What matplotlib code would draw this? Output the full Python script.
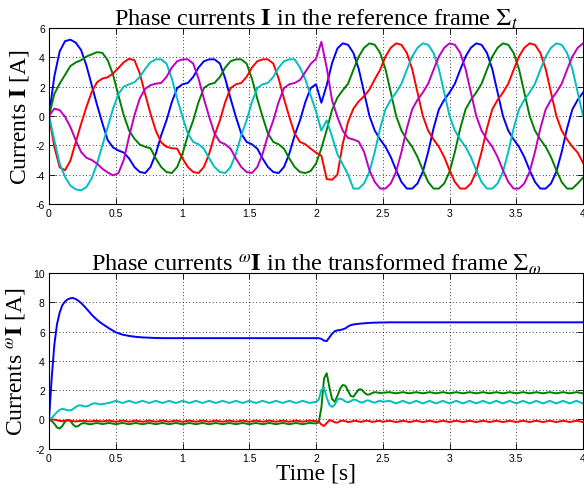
import numpy as np
import matplotlib
matplotlib.use('Agg')
import matplotlib.pyplot as plt
from matplotlib import ticker

plt.rcParams['font.family'] = ['Liberation Sans', 'DejaVu Sans']
plt.rcParams['mathtext.fontset'] = 'stix'

# ---- top panel: phase currents in the reference frame (sampled every 0.04 s) ----
t_top = np.round(np.arange(101) * 0.04, 2)

i_blue = [0, 2.7, 4.4, 5.1, 5.2, 5.0, 4.5, 3.45, 2.1, 0.75, -0.5, -1.65, -2.15, -2.35, -2.5,
          -2.9, -3.48, -3.82, -3.89, -3.48, -2.57, -1.32, -0.3, 0.95, 1.9, 2.16, 2.25, 2.66, 3.3, 3.73, 3.86,
          3.86, 3.57, 2.55, 1.18, -0.07, -1.2, -1.77, -1.93, -2.23, -2.9, -3.48, -3.82, -3.89, -3.48, -2.57,
          -1.32, -0.3, 0.95, 1.9, 2.16,
          0.9, 2.1, 3.6, 4.6,
          4.95, 4.85, 4.3, 3.2, 1.6, 0.0, -1.0, -1.6, -2.1, -2.8, -3.7, -4.5, -4.95, -4.95, -4.6, -3.8,
          -2.45, -0.85, 0.45, 1.1, 1.6, 2.2, 3.15, 4.05, 4.65,
          4.95, 4.85, 4.3, 3.2, 1.6, 0.0, -1.0, -1.6, -2.1, -2.8, -3.7, -4.5, -4.95, -4.95, -4.6, -3.8,
          -2.45, -0.85, 0.45, 1.1, 1.6]

i_green = [0, 1.5, 2.2, 2.8, 3.4, 3.65, 3.8, 4.05, 4.2, 4.35, 4.3, 3.8, 2.8, 1.4, 0.05, -1.0, -1.55, -1.95,
           -2.1, -2.2,
           -2.9, -3.48, -3.82, -3.89, -3.48, -2.57, -1.32, -0.3, 0.95, 1.9, 2.16, 2.25, 2.66, 3.3, 3.73, 3.86,
           3.86, 3.57, 2.55, 1.18, -0.07, -1.2, -1.77, -1.93, -2.23, -2.9, -3.48, -3.82,
           -3.89, -3.75, -3.25,
           -2.2, -0.95, 0.4, 1.25, 1.75,
           2.2, 3.15, 4.05, 4.65, 4.95, 4.85, 4.3, 3.2, 1.6, 0.0, -1.0, -1.6, -2.1, -2.8, -3.7, -4.5, -4.95,
           -4.95, -4.6, -3.8, -2.45, -0.85, 0.45, 1.1,
           1.6, 2.2, 3.15, 4.05, 4.65, 4.95, 4.85, 4.3, 3.2, 1.6, 0.0, -1.0, -1.6, -2.1, -2.8, -3.7, -4.5,
           -4.95, -4.95, -4.6, -4.2]

i_red = [0, -2.1, -3.5, -3.7, -3.05, -1.8, -0.55, 0.6, 1.64, 2.3, 2.55, 2.64, 2.9, 3.27, 3.66, 3.9,
         3.8, 2.9, 1.5, 0.16, -1.0, -1.8, -2.1, -2.2,
         -2.23, -2.9, -3.48, -3.82, -3.89, -3.48, -2.57, -1.32, -0.3, 0.95, 1.9, 2.16, 2.25, 2.66, 3.3, 3.73,
         3.86, 3.86, 3.57, 2.55, 1.18, -0.07, -1.2, -1.77, -1.93, -2.23,
         -2.5, -2.7, -4.3, -4.35, -4.0, -1.9, -0.4, 0.5, 1.0, 1.35, 1.8, 2.5,
         3.15, 4.05, 4.65,
         4.95, 4.85, 4.3, 3.2, 1.6, 0.0, -1.0, -1.6, -2.1, -2.8, -3.7, -4.5, -4.95, -4.95, -4.6, -3.8,
         -2.45, -0.85, 0.45, 1.1, 1.6, 2.2, 3.15, 4.05, 4.65,
         4.95, 4.85, 4.3, 3.2, 1.6, 0.0, -1.0, -1.6, -2.1, -2.5, -3.2]

i_cyan = [0, -1.65, -3.25, -4.15, -4.75, -5.0, -5.07, -4.85, -4.25, -3.25, -2.0, -0.75, 0.5, 1.5, 2.0,
          2.16, 2.3, 2.66, 3.2, 3.66,
          3.86, 3.86, 3.57, 2.55, 1.18, -0.07, -1.2, -1.77, -1.93, -2.23, -2.9, -3.48, -3.82, -3.89, -3.48,
          -2.57, -1.32, -0.3, 0.95, 1.9, 2.16, 2.25, 2.66, 3.3, 3.73, 3.86, 3.86,
          3.3, 2.5, 1.4, 0.3,
          -1.0, -0.3, -1.4, -2.6, -3.3, -4.0,
          -4.95, -4.95, -4.6, -3.8, -2.45, -0.85, 0.45, 1.1, 1.6, 2.2, 3.15, 4.05, 4.65,
          4.95, 4.85, 4.3, 3.2, 1.6, 0.0, -1.0, -1.6, -2.1, -2.8, -3.7, -4.5, -4.95, -4.95, -4.6, -3.8,
          -2.45, -0.85, 0.45, 1.1, 1.6, 2.2, 3.15, 4.05, 4.65,
          4.95, 4.85, 4.3, 3.2, 1.6, 0.0]

i_magenta = [0, 0.5, 0.4, -0.05, -0.75, -1.65, -2.45, -2.85, -3.0, -3.25, -3.6, -3.85, -4.05, -3.9, -3.0,
             -1.4, 0.05, 1.2, 1.85, 2.1, 2.2,
             2.25, 2.66, 3.3, 3.73, 3.86, 3.86, 3.57, 2.55, 1.18, -0.07, -1.2, -1.77, -1.93, -2.23, -2.9,
             -3.48, -3.82, -3.89, -3.48, -2.57, -1.32, -0.3, 0.95, 1.9, 2.16, 2.25,
             2.45, 3.0, 3.55, 3.9,
             5.05, 3.3, 1.07, -0.07, -1.0, -1.5, -1.6, -1.75, -2.45,
             -3.7, -4.5, -4.95, -4.95, -4.6, -3.8, -2.45, -0.85, 0.45, 1.1, 1.6, 2.2, 3.15, 4.05, 4.65,
             4.95, 4.85, 4.3, 3.2, 1.6, 0.0, -1.0, -1.6, -2.1, -2.8, -3.7, -4.5, -4.95, -4.95, -4.6, -3.8,
             -2.45, -0.85, 0.45, 1.1, 1.6, 2.2, 3.15, 4.05, 4.65,
             4.95]

# ---- bottom panel: phase currents in the transformed frame ----
t_bot = np.round(np.concatenate([np.arange(21) * 0.02,
                                 0.45 + np.arange(31) * 0.05,
                                 2.0 + np.arange(26) * 0.02,
                                 2.55 + np.arange(30) * 0.05]), 3)

w_blue = [0, 2.8, 5.1, 6.5, 7.3, 7.8, 8.05, 8.2, 8.27, 8.29, 8.22, 8.1, 7.95, 7.77, 7.57, 7.36, 7.15, 6.97,
          6.8, 6.65, 6.52,
          6.22, 5.95, 5.79, 5.7, 5.64, 5.6, 5.58, 5.56, 5.55, 5.55, 5.55, 5.55, 5.55, 5.55, 5.55, 5.55,
          5.55, 5.55, 5.55, 5.55, 5.55, 5.55, 5.55, 5.55, 5.55, 5.55, 5.55, 5.55, 5.55, 5.55, 5.55,
          5.55, 5.55, 5.5, 5.38, 5.35, 5.6, 5.85, 6.02, 6.08, 6.1, 6.15, 6.22, 6.35, 6.44, 6.48, 6.51,
          6.53, 6.55, 6.56, 6.58, 6.59, 6.6, 6.61, 6.61, 6.62, 6.62,
          6.63, 6.63, 6.63, 6.63, 6.63, 6.63, 6.63, 6.63, 6.63, 6.63, 6.63, 6.63, 6.63, 6.63, 6.63,
          6.63, 6.63, 6.63, 6.63, 6.63, 6.63, 6.63, 6.63, 6.63, 6.63, 6.63, 6.63, 6.63, 6.63, 6.63]

w_green = [0, -0.1, -0.3, -0.55, -0.62, -0.45, -0.15, -0.05, -0.1, -0.35, -0.5, -0.45, -0.3, -0.25, -0.28,
           -0.33, -0.32, -0.27, -0.25, -0.28, -0.32,
           -0.24, -0.33, -0.24, -0.33, -0.24, -0.33, -0.24, -0.33, -0.24, -0.33, -0.24, -0.33, -0.24, -0.33,
           -0.24, -0.33, -0.24, -0.33, -0.24, -0.33, -0.24, -0.33, -0.24, -0.33, -0.24, -0.33, -0.24, -0.33,
           -0.24, -0.33, -0.24,
           -0.28, -0.2, 0.8, 2.8, 3.15, 2.2, 1.4, 1.2, 1.6, 2.1, 2.35, 2.3, 1.95, 1.6, 1.55, 1.8, 2.05,
           2.05, 1.85, 1.7, 1.7, 1.8, 1.86, 1.84, 1.8, 1.82,
           1.86, 1.78, 1.86, 1.78, 1.86, 1.78, 1.86, 1.78, 1.86, 1.78, 1.86, 1.78, 1.86, 1.78, 1.86,
           1.78, 1.86, 1.78, 1.86, 1.78, 1.86, 1.78, 1.86, 1.78, 1.86, 1.78, 1.86, 1.78, 1.86, 1.78]

w_red = [0, 0.0, -0.02, -0.05, -0.1, -0.12, -0.08, -0.05, -0.08, -0.12, -0.14, -0.12, -0.1, -0.1, -0.12,
         -0.14, -0.13, -0.1, -0.1, -0.12, -0.14,
         -0.08, -0.16, -0.08, -0.16, -0.08, -0.16, -0.08, -0.16, -0.08, -0.16, -0.08, -0.16, -0.08, -0.16,
         -0.08, -0.16, -0.08, -0.16, -0.08, -0.16, -0.08, -0.16, -0.08, -0.16, -0.08, -0.16, -0.08, -0.16,
         -0.08, -0.16, -0.08,
         -0.12, -0.15, -0.35, -0.45, -0.25, -0.05, -0.1, -0.2, -0.22, -0.12, -0.08, -0.12, -0.18, -0.16,
         -0.1, -0.1, -0.15, -0.17, -0.12, -0.09, -0.12, -0.17, -0.15, -0.1, -0.11, -0.16,
         -0.09, -0.18, -0.09, -0.18, -0.09, -0.18, -0.09, -0.18, -0.09, -0.18, -0.09, -0.18, -0.09, -0.18,
         -0.09, -0.18, -0.09, -0.18, -0.09, -0.18, -0.09, -0.18, -0.09, -0.18, -0.09, -0.18, -0.09, -0.18,
         -0.09, -0.18]

w_cyan = [0, 0.1, 0.3, 0.5, 0.65, 0.72, 0.68, 0.62, 0.62, 0.7, 0.85, 0.95, 0.96, 0.9, 0.88, 0.95, 1.05,
          1.1, 1.08, 1.03, 1.05,
          1.12, 1.27, 1.12, 1.27, 1.12, 1.27, 1.12, 1.27, 1.12, 1.27, 1.12, 1.27, 1.12, 1.27, 1.12, 1.27,
          1.12, 1.27, 1.12, 1.27, 1.12, 1.27, 1.12, 1.27, 1.12, 1.27, 1.12, 1.27, 1.12, 1.27, 1.12,
          1.2, 1.35, 2.0, 2.15, 1.5, 1.0, 0.85, 1.0, 1.35, 1.42, 1.35, 1.22, 1.17, 1.25, 1.35, 1.33,
          1.22, 1.15, 1.2, 1.3, 1.28, 1.18, 1.14, 1.22, 1.28, 1.2,
          1.27, 1.09, 1.27, 1.09, 1.27, 1.09, 1.27, 1.09, 1.27, 1.09, 1.27, 1.09, 1.27, 1.09, 1.27,
          1.09, 1.27, 1.09, 1.27, 1.09, 1.27, 1.09, 1.27, 1.09, 1.27, 1.09, 1.27, 1.09, 1.27, 1.09]

colors = {'b': (0, 0, 1), 'g': (0, 0.5, 0), 'r': (1, 0, 0), 'c': (0, 0.75, 0.75), 'm': (0.75, 0, 0.75)}
serif = ['Liberation Serif', 'DejaVu Serif']

fig = plt.figure(figsize=(5.84, 4.89), dpi=100)
ax1 = fig.add_axes([0.0839, 0.5808, 0.9145, 0.36])
ax2 = fig.add_axes([0.0839, 0.0804, 0.9145, 0.3593])

for ys, c in zip([i_blue, i_green, i_red, i_cyan, i_magenta], 'bgrcm'):
    ax1.plot(t_top, ys, color=colors[c], lw=1.4)
for ys, c in zip([w_blue, w_green, w_red, w_cyan], 'bgrc'):
    ax2.plot(t_bot, ys, color=colors[c], lw=1.4)

ax1.set_ylim(-6, 6)
ax1.set_yticks(np.arange(-6, 7, 2))
ax2.set_ylim(-2, 10)
ax2.set_yticks(np.arange(-2, 11, 2))

for ax in (ax1, ax2):
    ax.set_xlim(0, 4)
    ax.set_xticks(np.arange(0, 4.01, 0.5))
    ax.xaxis.set_major_formatter(ticker.FormatStrFormatter('%g'))
    ax.yaxis.set_major_formatter(ticker.FormatStrFormatter('%g'))
    ax.grid(True, color='k', linestyle=(0, (1, 3)), linewidth=0.6)
    ax.tick_params(direction='in', top=True, right=True, length=4, width=0.6,
                   labelsize=7.5, pad=3)
    for s in ax.spines.values():
        s.set_linewidth(0.8)

ax1.set_title(r'Phase currents $\mathbf{I}$ in the reference frame $\Sigma_t$',
              fontsize=17.5, family=serif, pad=2)
ax1.set_ylabel(r'Currents $\mathbf{I}$ [A]', fontsize=17, family=serif, labelpad=3)
ax2.set_title(r'Phase currents $^{\omega}\mathbf{I}$ in the transformed frame $\Sigma_\omega$',
              fontsize=17.5, family=serif, pad=2)
ax2.set_ylabel(r'Currents $^{\omega}\mathbf{I}$ [A]', fontsize=17, family=serif, labelpad=3)
ax2.set_xlabel('Time [s]', fontsize=17, family=serif, labelpad=0)

fig.savefig('out.png', dpi=100)
